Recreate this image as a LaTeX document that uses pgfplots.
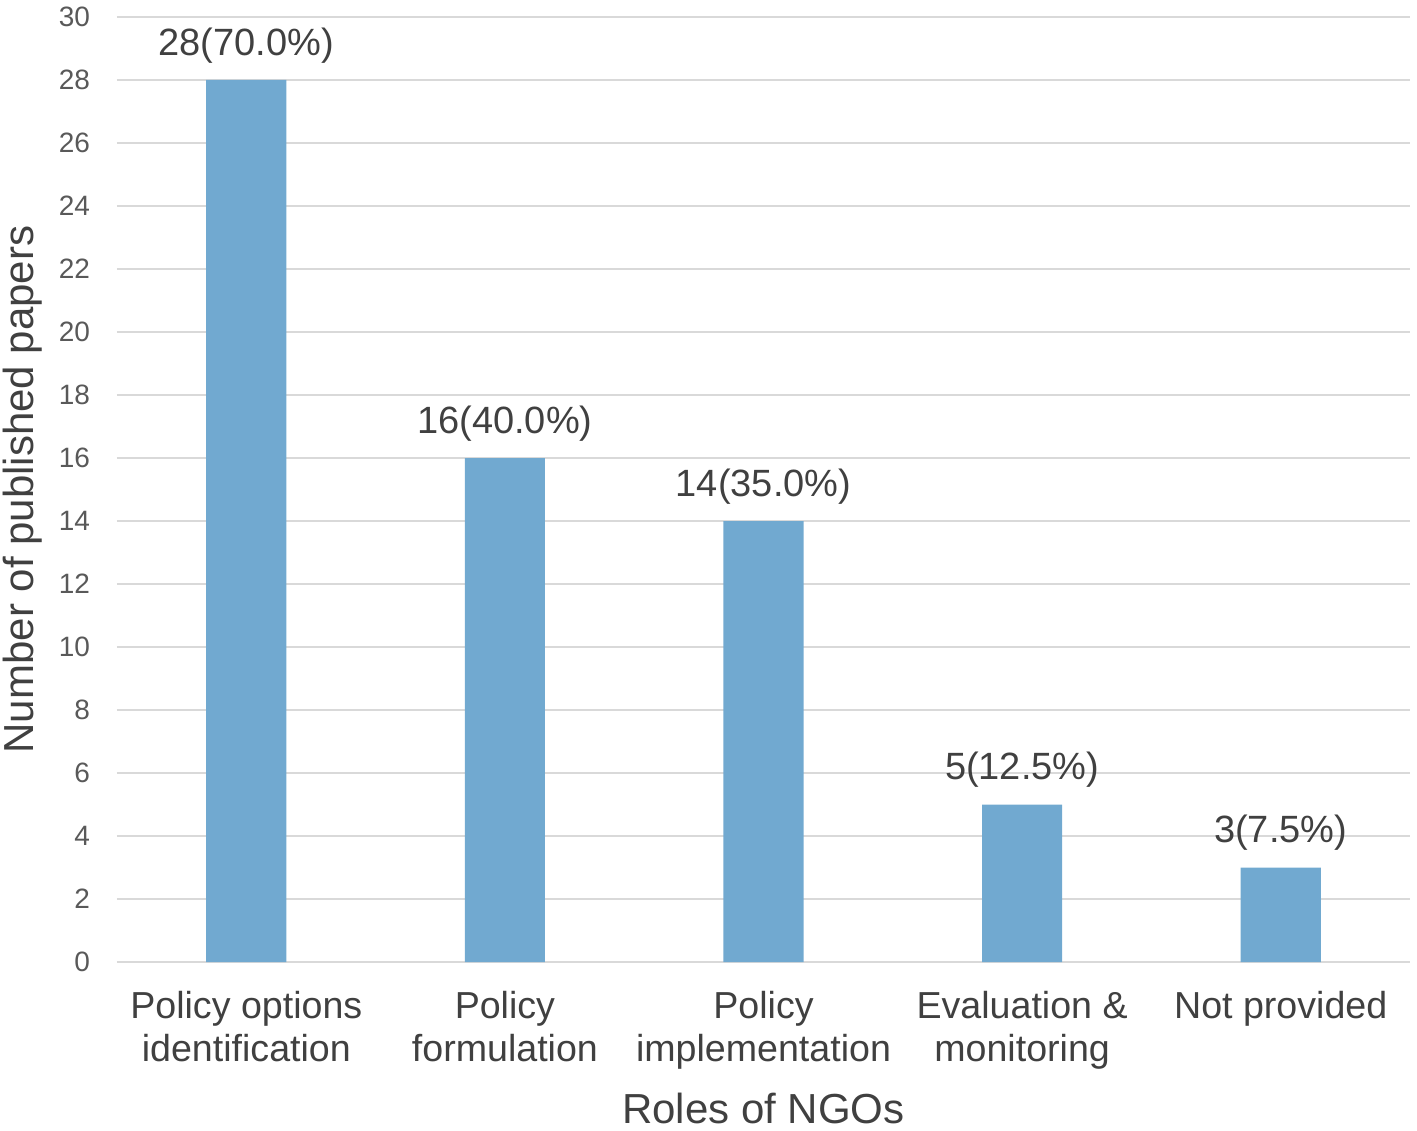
\documentclass[border=0pt]{standalone}
\usepackage{pgfplots}
\pgfplotsset{compat=1.18}
\usepackage{fontspec}
\setmainfont{Liberation Sans}
\definecolor{barblue}{HTML}{71A9D0}
\definecolor{gridgray}{HTML}{D9D9D9}
\definecolor{ticktext}{HTML}{595959}
\definecolor{labeltext}{HTML}{404040}
\begin{document}
\begin{tikzpicture}
\begin{axis}[
  name=ax,
  scale only axis,
  width=646.5pt, height=472.5pt,
  xmin=-0.5, xmax=4.5,
  ymin=0, ymax=30,
  ytick={0,2,...,30},
  xtick={0,1,2,3,4},
  xticklabels={{Policy options\\identification},{Policy\\formulation},{Policy\\implementation},{Evaluation \&\\monitoring},{Not provided}},
  axis line style={draw=none},
  major tick length=0pt,
  ymajorgrids,
  grid style={gridgray, line width=1pt},
  /pgf/number format/assume math mode=true,
  yticklabel style={font=\fontsize{14}{16}\selectfont, text=ticktext, xshift=-10pt},
  xticklabel style={font=\fontsize{18.8}{21.5}\selectfont, text=labeltext, align=center, anchor=north, yshift=-11pt},
  ylabel={Number of published papers},
  xlabel={Roles of NGOs},
  every axis y label/.style={at={(axis description cs:0,0.5)}, xshift=-47pt, rotate=90, anchor=center, font=\fontsize{21}{24}\selectfont, text=labeltext},
  every axis x label/.style={at={(axis description cs:0.5,0)}, yshift=-73pt, anchor=center, font=\fontsize{21}{24}\selectfont, text=labeltext},
  nodes near coords,
  point meta=explicit symbolic,
  every node near coord/.append style={font=\fontsize{19}{22}\selectfont, text=labeltext, anchor=south, yshift=5pt},
]
\addplot[ybar, bar width=0.31, fill=barblue, draw=none] coordinates {
  (0,28) [28(70.0\%)]
  (1,16) [16(40.0\%)]
  (2,14) [14(35.0\%)]
  (3,5) [5(12.5\%)]
  (4,3) [3(7.5\%)]
};
\end{axis}
\pgfresetboundingbox
\path (ax.south west) ++(-58.5pt,-84pt) rectangle ++(708.5pt,565pt);
\end{tikzpicture}
\end{document}
